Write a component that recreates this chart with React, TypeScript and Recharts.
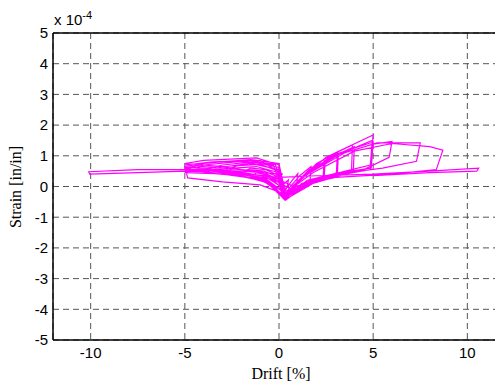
import React from 'react';
import { LineChart, Line, XAxis, YAxis, CartesianGrid, ReferenceLine } from 'recharts';

// drift [%], strain [x 1e-4] pairs, one list per loading cycle
const cycle1 = [[0, 0], [0.2, 0.05], [0.5, 0.22], [0.45, 0.02], [0.25, -0.15], [0, -0.25], [-0.25, -0.1], [-0.5, 0.05], [-0.4, 0.1], [-0.15, -0.05], [0.1, -0.3]];
const cycle2 = [[0.4, -0.05], [0.7, 0.2], [1.0, 0.42], [0.95, 0.1], [0.6, -0.1], [0.2, -0.35], [-0.3, -0.05], [-0.7, 0.12], [-1.0, 0.22], [-0.8, 0.3], [-0.3, 0.2], [0.05, 0.0], [0.2, -0.35]];
const cycle3 = [[0.6, 0.0], [1.1, 0.35], [1.7, 0.65], [1.65, 0.2], [1.2, 0.0], [0.6, -0.2], [0.25, -0.4], [-0.3, 0.0], [-0.9, 0.2], [-1.5, 0.3], [-1.2, 0.45], [-0.5, 0.35], [0.0, 0.15], [0.25, -0.38]];
const cycle4 = [[0.8, 0.05], [1.6, 0.55], [2.4, 0.9], [2.35, 0.35], [1.6, 0.1], [0.8, -0.15], [0.3, -0.42], [-0.4, 0.05], [-1.2, 0.25], [-2.0, 0.35], [-1.6, 0.55], [-0.8, 0.5], [0.0, 0.3], [0.3, -0.4]];
const cycle4b = [[0.7, 0.0], [1.5, 0.45], [2.45, 0.8], [2.4, 0.3], [1.5, 0.05], [0.6, -0.2], [0.25, -0.4], [-0.5, 0.1], [-1.3, 0.3], [-2.0, 0.45], [-1.5, 0.6], [-0.7, 0.55], [0.0, 0.35], [0.3, -0.4]];
const cycle5 = [[0.9, 0.1], [2.0, 0.75], [3.1, 1.12], [3.05, 0.45], [2.2, 0.2], [1.0, -0.05], [0.3, -0.43], [-0.5, 0.1], [-1.7, 0.3], [-3.0, 0.4], [-2.4, 0.6], [-1.2, 0.65], [0.0, 0.45], [0.3, -0.42]];
const cycle5b = [[0.9, 0.12], [2.1, 0.7], [3.15, 1.05], [3.1, 0.4], [2.0, 0.22], [0.9, 0.0], [0.3, -0.4], [-0.6, 0.2], [-1.8, 0.38], [-3.0, 0.5], [-2.2, 0.68], [-1.0, 0.72], [0.0, 0.5], [0.3, -0.4]];
const cycle6 = [[1.0, 0.15], [2.5, 0.95], [3.9, 1.35], [3.85, 0.5], [2.8, 0.3], [1.3, 0.0], [0.35, -0.45], [-0.6, 0.15], [-2.2, 0.35], [-4.0, 0.45], [-3.2, 0.62], [-1.5, 0.75], [0.0, 0.55], [0.3, -0.42]];
const cycle6b = [[1.1, 0.2], [2.6, 0.9], [4.0, 1.3], [3.95, 0.55], [2.6, 0.35], [1.2, 0.1], [0.35, -0.38], [-0.7, 0.25], [-2.4, 0.45], [-4.0, 0.55], [-3.0, 0.7], [-1.4, 0.8], [0.0, 0.62], [0.3, -0.38]];
const cycle7 = [[1.1, 0.2], [3.0, 1.1], [5.0, 1.68], [4.85, 0.55], [3.5, 0.4], [1.8, 0.1], [0.4, -0.4], [-0.7, 0.2], [-2.6, 0.4], [-5.0, 0.45], [-4.0, 0.7], [-2.0, 0.82], [-0.3, 0.7], [0.3, -0.35]];
const cycle7b = [[1.1, 0.25], [2.8, 0.95], [4.95, 1.5], [4.85, 0.7], [3.2, 0.45], [1.5, 0.2], [0.45, -0.3], [-0.9, 0.35], [-2.8, 0.5], [-5.0, 0.6], [-3.8, 0.78], [-1.8, 0.86], [-0.2, 0.72], [0.3, -0.3]];
const cycle8 = [[1.2, 0.3], [3.0, 1.05], [5.0, 1.45], [4.9, 0.6], [3.8, 0.5], [2.0, 0.2], [0.5, -0.3], [-0.8, 0.3], [-3.0, 0.45], [-5.0, 0.55], [-4.0, 0.75], [-1.5, 0.88], [0.0, 0.75], [0.35, -0.3]];
const cycle9 = [[1.3, 0.35], [3.2, 1.05], [5.0, 1.38], [6.0, 1.47], [5.85, 0.95], [4.5, 0.55], [2.5, 0.3], [0.6, -0.2], [-0.8, 0.35], [-3.0, 0.55], [-5.0, 0.65], [-4.85, 0.28], [-3.0, 0.15], [-1.0, 0.05], [0.3, -0.25]];
const cycle10 = [[1.5, 0.4], [3.5, 1.1], [5.2, 1.42], [7.5, 1.42], [7.3, 0.82], [5.5, 0.6], [3.0, 0.4], [0.7, -0.1], [-1.0, 0.45], [-3.0, 0.65], [-5.0, 0.75], [-4.0, 0.85], [-1.2, 0.93], [0.0, 0.7], [0.35, -0.2]];
const cycle11 = [[1.8, 0.45], [4.0, 1.15], [6.0, 1.4], [8.0, 1.3], [8.7, 1.18], [8.35, 0.55], [6.0, 0.4], [3.0, 0.3], [0.8, 0.0], [-1.0, 0.5], [-3.0, 0.6], [-5.0, 0.7], [-3.5, 0.8], [-1.0, 0.85], [0.2, 0.4]];
const cycle12 = [[-2.0, 0.5], [-5.0, 0.55], [-7.5, 0.55], [-10.1, 0.48], [-10.05, 0.4], [-7.5, 0.45], [-5.0, 0.5], [-2.5, 0.45], [0.0, 0.3], [2.0, 0.35], [5.0, 0.4], [8.0, 0.5], [10.6, 0.6], [10.5, 0.5], [8.0, 0.45], [5.0, 0.35]];

const xTicks = [-10, -5, 0, 5, 10];
const yTicks = [-5, -4, -3, -2, -1, 0, 1, 2, 3, 4, 5];

const cycles = [cycle1, cycle2, cycle3, cycle4, cycle4b, cycle5, cycle5b, cycle6, cycle6b, cycle7, cycle7b, cycle8, cycle9, cycle10, cycle11, cycle12];
const data = cycles.flat().map(([drift, strain]) => ({ drift, strain }));

const tickFont = { fill: '#000', fontSize: 15, fontFamily: '"Liberation Sans", Arial, sans-serif' };
const labelFont = { fontFamily: '"Liberation Serif", "Times New Roman", serif', fontSize: 16, color: '#000' };

const App = () => {
  return (
    <div style={{ position: 'absolute', left: 0, top: 0, width: 495, height: 384, overflow: 'hidden', background: '#fff' }}>
      <LineChart width={515} height={384} data={data} margin={{ top: 33, right: 10, left: 0, bottom: 0 }}>
        <CartesianGrid stroke="#555" strokeDasharray="6 4" />
        <XAxis
          type="number"
          dataKey="drift"
          domain={[-12, 12]}
          ticks={xTicks}
          allowDataOverflow
          tickLine={false}
          tickSize={6}
          tickMargin={1}
          height={44}
          axisLine={{ stroke: '#000', strokeWidth: 1.5 }}
          tick={tickFont}
        />
        <YAxis
          type="number"
          domain={[-5, 5]}
          ticks={yTicks}
          allowDataOverflow
          tickLine={false}
          tickSize={3}
          width={53}
          axisLine={{ stroke: '#000', strokeWidth: 1.5 }}
          tick={tickFont}
        />
        <ReferenceLine y={5} stroke="#000" strokeWidth={1.5} />
        <Line
          type="linear"
          dataKey="strain"
          stroke="#ff00ff"
          strokeWidth={1.2}
          dot={false}
          isAnimationActive={false}
        />
      </LineChart>
      <div style={{ position: 'absolute', left: 54, top: 9, fontSize: 15, fontFamily: tickFont.fontFamily, color: '#000' }}>
        x 10<sup style={{ fontSize: 11 }}>-4</sup>
      </div>
      <div style={{ position: 'absolute', left: 281, top: 365, transform: 'translateX(-50%)', whiteSpace: 'nowrap', ...labelFont }}>
        Drift [%]
      </div>
      <div style={{ position: 'absolute', left: 16, top: 187, transform: 'translate(-50%, -50%) rotate(-90deg)', whiteSpace: 'nowrap', ...labelFont }}>
        Strain [in/in]
      </div>
    </div>
  );
};

export default App;
